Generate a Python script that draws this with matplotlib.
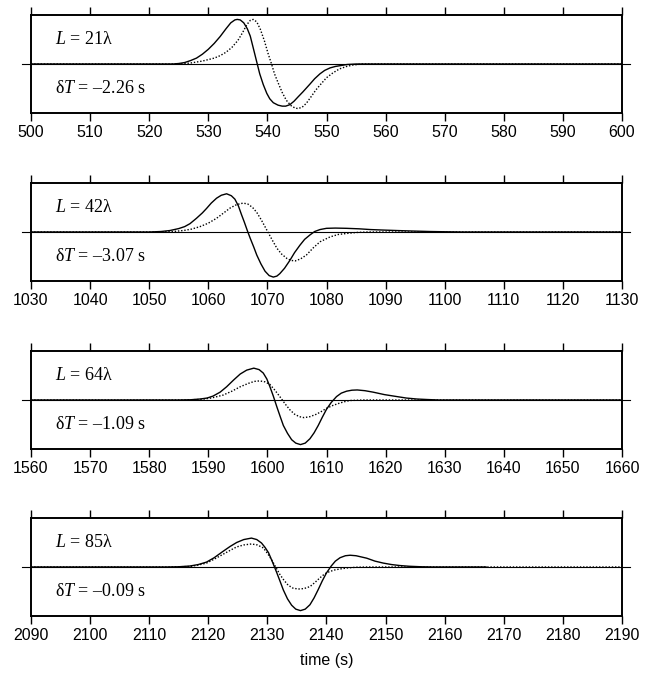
import matplotlib
matplotlib.use("Agg")
import matplotlib.pyplot as plt

plt.rcParams["mathtext.fontset"] = "custom"
plt.rcParams["mathtext.rm"] = "Liberation Serif"
plt.rcParams["mathtext.it"] = "Liberation Serif:italic"

# window start of each panel (s), each window is 100 s long
x_starts = [500, 1030, 1560, 2090]
lengths = ["21", "42", "64", "85"]
delays = ["\u20132.26", "\u20133.07", "\u20131.09", "\u20130.09"]

# panel 1 (L = 21 lambda)
t1_solid = [500, 524, 525, 526, 527, 528, 529, 530, 531, 532, 533, 533.8, 534.5,
            534.9, 535.4, 536, 536.6, 537.1, 537.6, 538.2, 538.7, 539.3, 539.9,
            540.4, 541, 541.8, 542.5, 543.1, 543.8, 544.5, 545.2, 546, 547.2,
            548, 548.9, 549.7, 550.6, 551.5, 552.5, 553.5, 555, 600]
a1_solid = [0, 0, 0.01, 0.03, 0.07, 0.12, 0.2, 0.3, 0.42, 0.56, 0.72, 0.84, 0.9,
            0.91, 0.9, 0.84, 0.72, 0.57, 0.33, 0.04, -0.2, -0.42, -0.6,
            -0.71, -0.79, -0.84, -0.86, -0.86, -0.83, -0.76, -0.67, -0.57, -0.41,
            -0.3, -0.2, -0.13, -0.08, -0.05, -0.03, -0.01, 0, 0]
t1_dot = [500, 525, 526, 527, 528, 529, 530, 531, 532, 533, 534, 535, 535.8,
          536.5, 537.1, 537.6, 538.2, 538.8, 539.5, 540.1, 540.7, 541.2, 541.8,
          542.5, 543.2, 544, 544.7, 545.2, 545.9, 546.6, 547.5, 548.2, 548.9,
          550, 551.1, 552.2, 553.4, 554.5, 556, 600]
a1_dot = [0, 0, 0.01, 0.02, 0.04, 0.06, 0.09, 0.12, 0.17, 0.24, 0.34, 0.48, 0.64,
          0.8, 0.89, 0.91, 0.86, 0.71, 0.47, 0.22, 0.0, -0.2, -0.38,
          -0.58, -0.74, -0.85, -0.9, -0.91, -0.88, -0.8, -0.65, -0.53, -0.43,
          -0.28, -0.18, -0.1, -0.05, -0.02, 0, 0]

# panel 2 (L = 42 lambda)
t2_solid = [1030, 1050, 1052, 1053.5, 1055, 1056, 1056.9, 1058, 1059, 1059.7, 1060.5,
            1061.4, 1062.2, 1063.1, 1063.9, 1064.5, 1065.1, 1065.6, 1066.1,
            1066.6, 1067.1, 1067.7, 1068.2, 1068.9, 1069.6, 1070.3, 1071.0,
            1071.6, 1072.1, 1072.9, 1073.8, 1074.6, 1075.5, 1076.3, 1077.2, 1078,
            1078.9, 1080, 1081.5, 1083.4, 1085.5, 1087.4, 1089.5, 1091.9, 1094.5,
            1097.5, 1100, 1103, 1130]
a2_solid = [0, 0, 0.01, 0.03, 0.07, 0.11, 0.17, 0.28, 0.39, 0.48, 0.59,
            0.69, 0.75, 0.78, 0.74, 0.67, 0.53, 0.36, 0.2,
            0.03, -0.13, -0.31, -0.47, -0.65, -0.8, -0.89, -0.92,
            -0.9, -0.85, -0.74, -0.58, -0.42, -0.27, -0.15, -0.06, 0.01,
            0.05, 0.075, 0.08, 0.075, 0.065, 0.05, 0.04, 0.03, 0.02,
            0.01, 0.005, 0, 0]
t2_dot = [1030, 1050, 1052, 1054, 1055.8, 1057.2, 1058.6, 1060, 1061.4, 1062.5,
          1063.7, 1064.8, 1065.9, 1066.7, 1067.5, 1068.2, 1069, 1069.9, 1070.8,
          1071.6, 1072.4, 1073.3, 1074, 1074.7, 1075.6, 1076.6, 1077.7, 1078.9,
          1080.6, 1082, 1083.4, 1085, 1087, 1130]
a2_dot = [0, 0, 0.005, 0.01, 0.03, 0.06, 0.11, 0.18, 0.28, 0.38,
          0.49, 0.56, 0.59, 0.57, 0.5, 0.4, 0.24, 0.04, -0.16,
          -0.33, -0.45, -0.54, -0.58, -0.59, -0.55, -0.47, -0.33, -0.2,
          -0.1, -0.05, -0.03, -0.01, 0, 0]

# panel 3 (L = 64 lambda)
t3_solid = [1560, 1585, 1587, 1588.6, 1589.8, 1590.8, 1592, 1593.1, 1594.3, 1595.4,
            1596.5, 1597.7, 1598.6, 1599.3, 1599.9, 1600.4, 1601, 1601.6, 1602.2,
            1602.7, 1603.4, 1604.1, 1604.8, 1605.6, 1606.4, 1607.2, 1607.9,
            1608.6, 1609.3, 1610.0, 1610.8, 1611.7, 1612.5, 1613.4, 1614.3,
            1615.2, 1616.5, 1617.9, 1619.8, 1621.9, 1623.5, 1625.3, 1627, 1629, 1660]
a3_solid = [0, 0, 0.005, 0.02, 0.04, 0.08, 0.16, 0.27, 0.41, 0.53,
            0.61, 0.65, 0.62, 0.55, 0.43, 0.28, 0.08, -0.14, -0.35,
            -0.52, -0.68, -0.81, -0.88, -0.91, -0.88, -0.79, -0.67,
            -0.52, -0.35, -0.19, -0.05, 0.07, 0.14, 0.18, 0.2,
            0.205, 0.19, 0.16, 0.11, 0.07, 0.04, 0.02, 0.01, 0, 0]
t3_dot = [1560, 1585, 1588.6, 1590.5, 1592.5, 1594, 1595.4, 1596.8, 1597.8, 1598.7,
          1599.6, 1600.4, 1601.2, 1602.1, 1603, 1603.8, 1604.6, 1605.4, 1606.2,
          1607.2, 1608.3, 1609.2, 1610.0, 1611.1, 1612.3, 1613.2, 1614.0, 1616.3, 1660]
a3_dot = [0, 0, 0.01, 0.04, 0.1, 0.18, 0.27, 0.34, 0.38, 0.39,
          0.37, 0.32, 0.21, 0.07, -0.08, -0.2, -0.29, -0.34, -0.36,
          -0.34, -0.29, -0.23, -0.17, -0.11, -0.06, -0.03, -0.01, 0, 0]

# panel 4 (L = 85 lambda)
t4_solid = [2090, 2113, 2115, 2116.9, 2118.3, 2119.7, 2121, 2122.5, 2123.7, 2124.8,
            2126, 2127.3, 2128.2, 2129.0, 2129.6, 2130.2, 2130.9, 2131.6, 2132.2,
            2132.7, 2133.4, 2134.1, 2134.8, 2135.6, 2136.4, 2137.2, 2137.9,
            2138.6, 2139.3, 2140.0, 2140.8, 2141.5, 2142.3, 2143.2, 2144.0, 2145,
            2146.8, 2148.2, 2149.6, 2151, 2152.4, 2154, 2156, 2158, 2167]
a4_solid = [0, 0, 0.005, 0.02, 0.05, 0.10, 0.19, 0.32, 0.42, 0.5,
            0.56, 0.59, 0.56, 0.49, 0.4, 0.29, 0.09, -0.12, -0.31,
            -0.47, -0.65, -0.78, -0.86, -0.89, -0.86, -0.77, -0.63,
            -0.46, -0.28, -0.12, 0.02, 0.12, 0.19, 0.23, 0.24, 0.23,
            0.18, 0.12, 0.08, 0.05, 0.03, 0.015, 0.005, 0, 0]
t4_dot = [2090, 2113, 2116.9, 2118.3, 2119.7, 2121, 2122.5, 2123.7, 2124.8, 2126,
          2127.3, 2128.3, 2129.3, 2130, 2130.7, 2131.4, 2132.1, 2132.8, 2133.5,
          2134.3, 2135.2, 2136.2, 2137.2, 2138, 2138.9, 2139.5, 2140.0, 2140.6,
          2141.4, 2142.3, 2143.5, 2145, 2147, 2190]
a4_dot = [0, 0, 0.01, 0.04, 0.08, 0.16, 0.26, 0.34, 0.41, 0.45,
          0.47, 0.45, 0.39, 0.28, 0.15, 0.0, -0.15, -0.27, -0.37,
          -0.43, -0.45, -0.44, -0.40, -0.32, -0.22, -0.16, -0.12, -0.09,
          -0.06, -0.04, -0.02, -0.005, 0, 0]

solids = [(t1_solid, a1_solid), (t2_solid, a2_solid), (t3_solid, a3_solid), (t4_solid, a4_solid)]
dots = [(t1_dot, a1_dot), (t2_dot, a2_dot), (t3_dot, a3_dot), (t4_dot, a4_dot)]

fig = plt.figure(figsize=(6.55, 6.73), dpi=100)
W, H = 655.0, 673.0
tops = [15, 183, 351, 518]
box_h = 98

for i in range(4):
    ax = fig.add_axes([31 / W, 1 - (tops[i] + box_h) / H, 591 / W, box_h / H])
    x0 = x_starts[i]
    ax.set_xlim(x0, x0 + 100)
    ax.set_ylim(-1, 1)

    # zero line sticking out a little past the box
    ax.plot([x0 - 1.5, x0 + 101.4], [0, 0], color="black", lw=0.8, clip_on=False, zorder=2)
    ax.plot(dots[i][0], dots[i][1], color="black", ls=(0, (1, 1.3)), lw=1.0, zorder=3)
    ax.plot(solids[i][0], solids[i][1], color="black", lw=1.0, zorder=4)

    ax.set_xticks(range(x0, x0 + 101, 10))
    ax.set_yticks([])
    ax.tick_params(axis="x", direction="out", length=5.5, width=1.0, top=True,
                   labeltop=False, pad=3, labelsize=11.5)
    for lab in ax.get_xticklabels():
        lab.set_fontfamily("Liberation Sans")
    for sp in ax.spines.values():
        sp.set_linewidth(1.4)

    ax.text(24 / 591, 0.75, r"$L$ = " + lengths[i] + "\u03bb", transform=ax.transAxes,
            family="Liberation Serif", fontsize=13, va="center", ha="left")
    ax.text(24 / 591, 0.25, "\u03b4" + r"$T$ = " + delays[i] + " s", transform=ax.transAxes,
            family="Liberation Serif", fontsize=13, va="center", ha="left")

    if i == 3:
        ax.set_xlabel("time (s)", family="Liberation Sans", fontsize=11.5, labelpad=7)

fig.savefig("out.png", dpi=100)
